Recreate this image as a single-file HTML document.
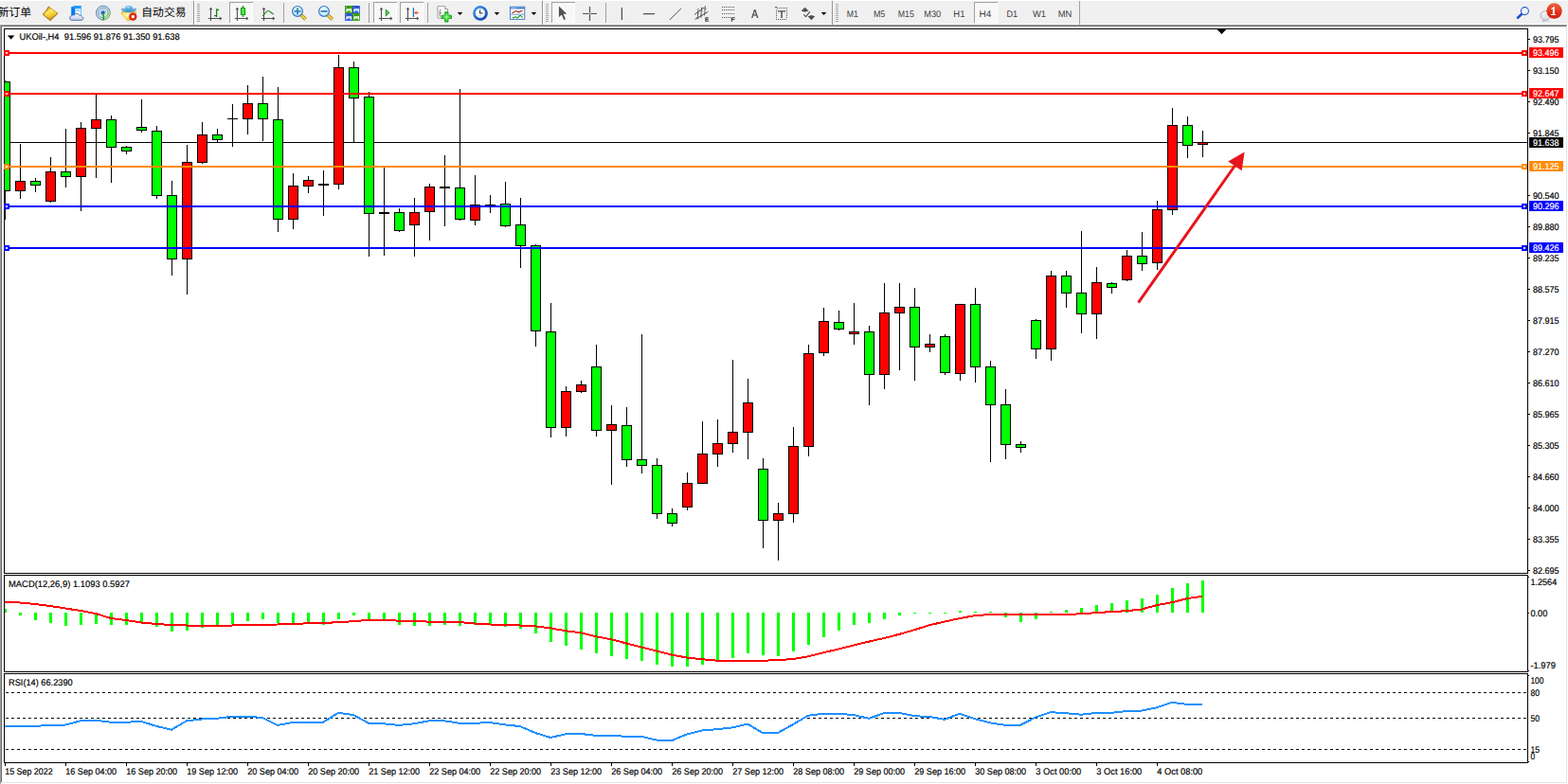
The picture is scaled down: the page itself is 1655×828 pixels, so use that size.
<!DOCTYPE html>
<html><head><meta charset="utf-8"><title>UKOil H4</title>
<style>
html,body{margin:0;padding:0;background:#fff;}
body{width:1655px;height:828px;overflow:hidden;position:relative;font-family:"Liberation Sans",sans-serif;}
svg{position:absolute;left:0;top:0;display:block}
text{font-family:"Liberation Sans",sans-serif;text-rendering:geometricPrecision;}
</style></head><body>
<svg width="1655" height="828" viewBox="0 0 1655 828">
<rect x="0" y="0" width="1655" height="828" fill="#fff"/>
<!-- window edges -->
<g shape-rendering="crispEdges">
<rect x="0" y="26" width="1" height="802" fill="#a0a0a0"/>
<rect x="1" y="27" width="1" height="800" fill="#696969"/>
<rect x="1653" y="27" width="1" height="800" fill="#e3e3e3"/>
<rect x="1" y="826" width="1653" height="1" fill="#e3e3e3"/>
</g>
<g shape-rendering="crispEdges">
<rect x="4" y="30" width="1609" height="1" fill="#000"/>
<rect x="4" y="605" width="1609" height="1" fill="#000"/>
<rect x="4" y="30" width="1" height="576" fill="#000"/>
<rect x="1612" y="30" width="1" height="576" fill="#000"/>
<rect x="4" y="607" width="1609" height="1" fill="#000"/>
<rect x="4" y="709" width="1609" height="1" fill="#000"/>
<rect x="4" y="607" width="1" height="103" fill="#000"/>
<rect x="1612" y="607" width="1" height="103" fill="#000"/>
<rect x="4" y="711" width="1609" height="1" fill="#000"/>
<rect x="4" y="805" width="1609" height="1" fill="#000"/>
<rect x="4" y="711" width="1" height="95" fill="#000"/>
<rect x="1612" y="711" width="1" height="95" fill="#000"/>
<rect x="5" y="150" width="1607" height="1" fill="#000"/>
<clipPath id="cm"><rect x="5" y="31" width="1607" height="574"/></clipPath><g clip-path="url(#cm)">
<rect x="5" y="85" width="1" height="147" fill="#000"/>
<rect x="0" y="86" width="11" height="116" fill="#000"/>
<rect x="1" y="87" width="9" height="114" fill="#00ff00"/>
<rect x="21" y="152" width="1" height="58" fill="#000"/>
<rect x="16" y="191" width="11" height="11" fill="#000"/>
<rect x="17" y="192" width="9" height="9" fill="#ff0000"/>
<rect x="37" y="188" width="1" height="15" fill="#000"/>
<rect x="32" y="191" width="11" height="5" fill="#000"/>
<rect x="33" y="192" width="9" height="3" fill="#00ff00"/>
<rect x="53" y="166" width="1" height="48" fill="#000"/>
<rect x="48" y="181" width="11" height="32" fill="#000"/>
<rect x="49" y="182" width="9" height="30" fill="#ff0000"/>
<rect x="69" y="136" width="1" height="62" fill="#000"/>
<rect x="64" y="181" width="11" height="6" fill="#000"/>
<rect x="65" y="182" width="9" height="4" fill="#00ff00"/>
<rect x="85" y="129" width="1" height="94" fill="#000"/>
<rect x="80" y="135" width="11" height="52" fill="#000"/>
<rect x="81" y="136" width="9" height="50" fill="#ff0000"/>
<rect x="101" y="99" width="1" height="89" fill="#000"/>
<rect x="96" y="126" width="11" height="10" fill="#000"/>
<rect x="97" y="127" width="9" height="8" fill="#ff0000"/>
<rect x="117" y="122" width="1" height="71" fill="#000"/>
<rect x="112" y="126" width="11" height="30" fill="#000"/>
<rect x="113" y="127" width="9" height="28" fill="#00ff00"/>
<rect x="133" y="154" width="1" height="9" fill="#000"/>
<rect x="128" y="155" width="11" height="5" fill="#000"/>
<rect x="129" y="156" width="9" height="3" fill="#00ff00"/>
<rect x="149" y="105" width="1" height="35" fill="#000"/>
<rect x="144" y="134" width="11" height="4" fill="#000"/>
<rect x="145" y="135" width="9" height="2" fill="#00ff00"/>
<rect x="165" y="133" width="1" height="77" fill="#000"/>
<rect x="160" y="138" width="11" height="69" fill="#000"/>
<rect x="161" y="139" width="9" height="67" fill="#00ff00"/>
<rect x="181" y="191" width="1" height="100" fill="#000"/>
<rect x="176" y="206" width="11" height="68" fill="#000"/>
<rect x="177" y="207" width="9" height="66" fill="#00ff00"/>
<rect x="197" y="153" width="1" height="158" fill="#000"/>
<rect x="192" y="171" width="11" height="103" fill="#000"/>
<rect x="193" y="172" width="9" height="101" fill="#ff0000"/>
<rect x="213" y="129" width="1" height="44" fill="#000"/>
<rect x="208" y="142" width="11" height="30" fill="#000"/>
<rect x="209" y="143" width="9" height="28" fill="#ff0000"/>
<rect x="229" y="136" width="1" height="14" fill="#000"/>
<rect x="224" y="142" width="11" height="6" fill="#000"/>
<rect x="225" y="143" width="9" height="4" fill="#00ff00"/>
<rect x="245" y="110" width="1" height="45" fill="#000"/>
<rect x="240" y="125" width="11" height="1" fill="#000"/>
<rect x="261" y="90" width="1" height="52" fill="#000"/>
<rect x="256" y="109" width="11" height="17" fill="#000"/>
<rect x="257" y="110" width="9" height="15" fill="#ff0000"/>
<rect x="277" y="81" width="1" height="68" fill="#000"/>
<rect x="272" y="109" width="11" height="17" fill="#000"/>
<rect x="273" y="110" width="9" height="15" fill="#00ff00"/>
<rect x="293" y="92" width="1" height="153" fill="#000"/>
<rect x="288" y="126" width="11" height="106" fill="#000"/>
<rect x="289" y="127" width="9" height="104" fill="#00ff00"/>
<rect x="309" y="183" width="1" height="59" fill="#000"/>
<rect x="304" y="196" width="11" height="36" fill="#000"/>
<rect x="305" y="197" width="9" height="34" fill="#ff0000"/>
<rect x="325" y="186" width="1" height="18" fill="#000"/>
<rect x="320" y="190" width="11" height="7" fill="#000"/>
<rect x="321" y="191" width="9" height="5" fill="#ff0000"/>
<rect x="341" y="180" width="1" height="48" fill="#000"/>
<rect x="336" y="194" width="11" height="2" fill="#000"/>
<rect x="357" y="58" width="1" height="142" fill="#000"/>
<rect x="352" y="71" width="11" height="124" fill="#000"/>
<rect x="353" y="72" width="9" height="122" fill="#ff0000"/>
<rect x="373" y="65" width="1" height="85" fill="#000"/>
<rect x="368" y="71" width="11" height="33" fill="#000"/>
<rect x="369" y="72" width="9" height="31" fill="#00ff00"/>
<rect x="389" y="97" width="1" height="174" fill="#000"/>
<rect x="384" y="102" width="11" height="124" fill="#000"/>
<rect x="385" y="103" width="9" height="122" fill="#00ff00"/>
<rect x="405" y="176" width="1" height="94" fill="#000"/>
<rect x="400" y="224" width="11" height="2" fill="#000"/>
<rect x="421" y="220" width="1" height="25" fill="#000"/>
<rect x="416" y="224" width="11" height="20" fill="#000"/>
<rect x="417" y="225" width="9" height="18" fill="#00ff00"/>
<rect x="437" y="209" width="1" height="62" fill="#000"/>
<rect x="432" y="224" width="11" height="14" fill="#000"/>
<rect x="433" y="225" width="9" height="12" fill="#ff0000"/>
<rect x="453" y="194" width="1" height="60" fill="#000"/>
<rect x="448" y="197" width="11" height="27" fill="#000"/>
<rect x="449" y="198" width="9" height="25" fill="#ff0000"/>
<rect x="469" y="164" width="1" height="75" fill="#000"/>
<rect x="464" y="197" width="11" height="2" fill="#000"/>
<rect x="485" y="94" width="1" height="139" fill="#000"/>
<rect x="480" y="198" width="11" height="34" fill="#000"/>
<rect x="481" y="199" width="9" height="32" fill="#00ff00"/>
<rect x="501" y="185" width="1" height="53" fill="#000"/>
<rect x="496" y="216" width="11" height="17" fill="#000"/>
<rect x="497" y="217" width="9" height="15" fill="#ff0000"/>
<rect x="517" y="206" width="1" height="19" fill="#000"/>
<rect x="512" y="216" width="11" height="1" fill="#000"/>
<rect x="533" y="192" width="1" height="48" fill="#000"/>
<rect x="528" y="215" width="11" height="24" fill="#000"/>
<rect x="529" y="216" width="9" height="22" fill="#00ff00"/>
<rect x="549" y="209" width="1" height="74" fill="#000"/>
<rect x="544" y="237" width="11" height="23" fill="#000"/>
<rect x="545" y="238" width="9" height="21" fill="#00ff00"/>
<rect x="565" y="258" width="1" height="108" fill="#000"/>
<rect x="560" y="259" width="11" height="91" fill="#000"/>
<rect x="561" y="260" width="9" height="89" fill="#00ff00"/>
<rect x="581" y="320" width="1" height="142" fill="#000"/>
<rect x="576" y="350" width="11" height="102" fill="#000"/>
<rect x="577" y="351" width="9" height="100" fill="#00ff00"/>
<rect x="597" y="408" width="1" height="53" fill="#000"/>
<rect x="592" y="413" width="11" height="39" fill="#000"/>
<rect x="593" y="414" width="9" height="37" fill="#ff0000"/>
<rect x="613" y="402" width="1" height="13" fill="#000"/>
<rect x="608" y="406" width="11" height="8" fill="#000"/>
<rect x="609" y="407" width="9" height="6" fill="#ff0000"/>
<rect x="629" y="364" width="1" height="97" fill="#000"/>
<rect x="624" y="387" width="11" height="68" fill="#000"/>
<rect x="625" y="388" width="9" height="66" fill="#00ff00"/>
<rect x="645" y="428" width="1" height="84" fill="#000"/>
<rect x="640" y="448" width="11" height="7" fill="#000"/>
<rect x="641" y="449" width="9" height="5" fill="#ff0000"/>
<rect x="661" y="430" width="1" height="63" fill="#000"/>
<rect x="656" y="449" width="11" height="37" fill="#000"/>
<rect x="657" y="450" width="9" height="35" fill="#00ff00"/>
<rect x="677" y="353" width="1" height="147" fill="#000"/>
<rect x="672" y="485" width="11" height="7" fill="#000"/>
<rect x="673" y="486" width="9" height="5" fill="#00ff00"/>
<rect x="693" y="484" width="1" height="64" fill="#000"/>
<rect x="688" y="491" width="11" height="52" fill="#000"/>
<rect x="689" y="492" width="9" height="50" fill="#00ff00"/>
<rect x="709" y="537" width="1" height="19" fill="#000"/>
<rect x="704" y="542" width="11" height="11" fill="#000"/>
<rect x="705" y="543" width="9" height="9" fill="#00ff00"/>
<rect x="725" y="499" width="1" height="40" fill="#000"/>
<rect x="720" y="510" width="11" height="26" fill="#000"/>
<rect x="721" y="511" width="9" height="24" fill="#ff0000"/>
<rect x="741" y="445" width="1" height="65" fill="#000"/>
<rect x="736" y="479" width="11" height="32" fill="#000"/>
<rect x="737" y="480" width="9" height="30" fill="#ff0000"/>
<rect x="757" y="443" width="1" height="50" fill="#000"/>
<rect x="752" y="468" width="11" height="12" fill="#000"/>
<rect x="753" y="469" width="9" height="10" fill="#ff0000"/>
<rect x="773" y="380" width="1" height="98" fill="#000"/>
<rect x="768" y="456" width="11" height="13" fill="#000"/>
<rect x="769" y="457" width="9" height="11" fill="#ff0000"/>
<rect x="789" y="400" width="1" height="85" fill="#000"/>
<rect x="784" y="425" width="11" height="32" fill="#000"/>
<rect x="785" y="426" width="9" height="30" fill="#ff0000"/>
<rect x="805" y="484" width="1" height="95" fill="#000"/>
<rect x="800" y="495" width="11" height="55" fill="#000"/>
<rect x="801" y="496" width="9" height="53" fill="#00ff00"/>
<rect x="821" y="531" width="1" height="61" fill="#000"/>
<rect x="816" y="542" width="11" height="8" fill="#000"/>
<rect x="817" y="543" width="9" height="6" fill="#ff0000"/>
<rect x="837" y="451" width="1" height="101" fill="#000"/>
<rect x="832" y="471" width="11" height="72" fill="#000"/>
<rect x="833" y="472" width="9" height="70" fill="#ff0000"/>
<rect x="853" y="364" width="1" height="118" fill="#000"/>
<rect x="848" y="373" width="11" height="99" fill="#000"/>
<rect x="849" y="374" width="9" height="97" fill="#ff0000"/>
<rect x="869" y="325" width="1" height="51" fill="#000"/>
<rect x="864" y="339" width="11" height="34" fill="#000"/>
<rect x="865" y="340" width="9" height="32" fill="#ff0000"/>
<rect x="885" y="328" width="1" height="21" fill="#000"/>
<rect x="880" y="340" width="11" height="8" fill="#000"/>
<rect x="881" y="341" width="9" height="6" fill="#00ff00"/>
<rect x="901" y="320" width="1" height="44" fill="#000"/>
<rect x="896" y="350" width="11" height="3" fill="#000"/>
<rect x="897" y="351" width="9" height="1" fill="#ff0000"/>
<rect x="917" y="344" width="1" height="84" fill="#000"/>
<rect x="912" y="350" width="11" height="46" fill="#000"/>
<rect x="913" y="351" width="9" height="44" fill="#00ff00"/>
<rect x="933" y="299" width="1" height="112" fill="#000"/>
<rect x="928" y="330" width="11" height="66" fill="#000"/>
<rect x="929" y="331" width="9" height="64" fill="#ff0000"/>
<rect x="949" y="299" width="1" height="92" fill="#000"/>
<rect x="944" y="324" width="11" height="7" fill="#000"/>
<rect x="945" y="325" width="9" height="5" fill="#ff0000"/>
<rect x="965" y="304" width="1" height="98" fill="#000"/>
<rect x="960" y="324" width="11" height="43" fill="#000"/>
<rect x="961" y="325" width="9" height="41" fill="#00ff00"/>
<rect x="981" y="353" width="1" height="19" fill="#000"/>
<rect x="976" y="363" width="11" height="4" fill="#000"/>
<rect x="977" y="364" width="9" height="2" fill="#ff0000"/>
<rect x="997" y="353" width="1" height="43" fill="#000"/>
<rect x="992" y="355" width="11" height="39" fill="#000"/>
<rect x="993" y="356" width="9" height="37" fill="#00ff00"/>
<rect x="1013" y="321" width="1" height="81" fill="#000"/>
<rect x="1008" y="321" width="11" height="74" fill="#000"/>
<rect x="1009" y="322" width="9" height="72" fill="#ff0000"/>
<rect x="1029" y="304" width="1" height="100" fill="#000"/>
<rect x="1024" y="321" width="11" height="67" fill="#000"/>
<rect x="1025" y="322" width="9" height="65" fill="#00ff00"/>
<rect x="1045" y="381" width="1" height="107" fill="#000"/>
<rect x="1040" y="387" width="11" height="41" fill="#000"/>
<rect x="1041" y="388" width="9" height="39" fill="#00ff00"/>
<rect x="1061" y="411" width="1" height="74" fill="#000"/>
<rect x="1056" y="427" width="11" height="43" fill="#000"/>
<rect x="1057" y="428" width="9" height="41" fill="#00ff00"/>
<rect x="1077" y="466" width="1" height="12" fill="#000"/>
<rect x="1072" y="469" width="11" height="4" fill="#000"/>
<rect x="1073" y="470" width="9" height="2" fill="#00ff00"/>
<rect x="1093" y="337" width="1" height="42" fill="#000"/>
<rect x="1088" y="338" width="11" height="31" fill="#000"/>
<rect x="1089" y="339" width="9" height="29" fill="#00ff00"/>
<rect x="1109" y="286" width="1" height="95" fill="#000"/>
<rect x="1104" y="291" width="11" height="78" fill="#000"/>
<rect x="1105" y="292" width="9" height="76" fill="#ff0000"/>
<rect x="1125" y="286" width="1" height="39" fill="#000"/>
<rect x="1120" y="291" width="11" height="19" fill="#000"/>
<rect x="1121" y="292" width="9" height="17" fill="#00ff00"/>
<rect x="1141" y="244" width="1" height="108" fill="#000"/>
<rect x="1136" y="309" width="11" height="23" fill="#000"/>
<rect x="1137" y="310" width="9" height="21" fill="#00ff00"/>
<rect x="1157" y="282" width="1" height="76" fill="#000"/>
<rect x="1152" y="298" width="11" height="34" fill="#000"/>
<rect x="1153" y="299" width="9" height="32" fill="#ff0000"/>
<rect x="1173" y="298" width="1" height="12" fill="#000"/>
<rect x="1168" y="299" width="11" height="5" fill="#000"/>
<rect x="1169" y="300" width="9" height="3" fill="#00ff00"/>
<rect x="1189" y="264" width="1" height="33" fill="#000"/>
<rect x="1184" y="270" width="11" height="26" fill="#000"/>
<rect x="1185" y="271" width="9" height="24" fill="#ff0000"/>
<rect x="1205" y="245" width="1" height="41" fill="#000"/>
<rect x="1200" y="270" width="11" height="9" fill="#000"/>
<rect x="1201" y="271" width="9" height="7" fill="#00ff00"/>
<rect x="1221" y="212" width="1" height="73" fill="#000"/>
<rect x="1216" y="221" width="11" height="57" fill="#000"/>
<rect x="1217" y="222" width="9" height="55" fill="#ff0000"/>
<rect x="1237" y="114" width="1" height="113" fill="#000"/>
<rect x="1232" y="132" width="11" height="90" fill="#000"/>
<rect x="1233" y="133" width="9" height="88" fill="#ff0000"/>
<rect x="1253" y="123" width="1" height="44" fill="#000"/>
<rect x="1248" y="132" width="11" height="22" fill="#000"/>
<rect x="1249" y="133" width="9" height="20" fill="#00ff00"/>
<rect x="1269" y="138" width="1" height="28" fill="#000"/>
<rect x="1264" y="150" width="11" height="3" fill="#000"/>
<rect x="1265" y="151" width="9" height="1" fill="#ff0000"/>
</g>
<rect x="5" y="55" width="1607" height="2" fill="#ff0000"/>
<rect x="4" y="53" width="6" height="6" fill="#ff0000"/>
<rect x="6" y="55" width="2" height="2" fill="#fff"/>
<rect x="1606" y="53" width="6" height="6" fill="#ff0000"/>
<rect x="1608" y="55" width="2" height="2" fill="#fff"/>
<rect x="5" y="98" width="1607" height="2" fill="#ff0000"/>
<rect x="4" y="96" width="6" height="6" fill="#ff0000"/>
<rect x="6" y="98" width="2" height="2" fill="#fff"/>
<rect x="1606" y="96" width="6" height="6" fill="#ff0000"/>
<rect x="1608" y="98" width="2" height="2" fill="#fff"/>
<rect x="5" y="175" width="1607" height="2" fill="#ff8c00"/>
<rect x="4" y="173" width="6" height="6" fill="#ff8c00"/>
<rect x="6" y="175" width="2" height="2" fill="#fff"/>
<rect x="1606" y="173" width="6" height="6" fill="#ff8c00"/>
<rect x="1608" y="175" width="2" height="2" fill="#fff"/>
<rect x="5" y="217" width="1607" height="2" fill="#0000ff"/>
<rect x="4" y="215" width="6" height="6" fill="#0000ff"/>
<rect x="6" y="217" width="2" height="2" fill="#fff"/>
<rect x="1606" y="215" width="6" height="6" fill="#0000ff"/>
<rect x="1608" y="217" width="2" height="2" fill="#fff"/>
<rect x="5" y="261" width="1607" height="2" fill="#0000ff"/>
<rect x="4" y="259" width="6" height="6" fill="#0000ff"/>
<rect x="6" y="261" width="2" height="2" fill="#fff"/>
<rect x="1606" y="259" width="6" height="6" fill="#0000ff"/>
<rect x="1608" y="261" width="2" height="2" fill="#fff"/>
<rect x="1613" y="41" width="2" height="1" fill="#000"/>
<rect x="1613" y="74" width="2" height="1" fill="#000"/>
<rect x="1613" y="107" width="2" height="1" fill="#000"/>
<rect x="1613" y="140" width="2" height="1" fill="#000"/>
<rect x="1613" y="206" width="2" height="1" fill="#000"/>
<rect x="1613" y="239" width="2" height="1" fill="#000"/>
<rect x="1613" y="272" width="2" height="1" fill="#000"/>
<rect x="1613" y="305" width="2" height="1" fill="#000"/>
<rect x="1613" y="338" width="2" height="1" fill="#000"/>
<rect x="1613" y="371" width="2" height="1" fill="#000"/>
<rect x="1613" y="404" width="2" height="1" fill="#000"/>
<rect x="1613" y="437" width="2" height="1" fill="#000"/>
<rect x="1613" y="470" width="2" height="1" fill="#000"/>
<rect x="1613" y="503" width="2" height="1" fill="#000"/>
<rect x="1613" y="536" width="2" height="1" fill="#000"/>
<rect x="1613" y="569" width="2" height="1" fill="#000"/>
<rect x="1613" y="602" width="2" height="1" fill="#000"/>
<rect x="1614" y="50" width="36" height="11" fill="#ff0000"/>
<rect x="1614" y="93" width="36" height="11" fill="#ff0000"/>
<rect x="1614" y="170" width="36" height="11" fill="#ff8c00"/>
<rect x="1614" y="212" width="36" height="11" fill="#0000ff"/>
<rect x="1614" y="256" width="36" height="11" fill="#0000ff"/>
<rect x="1614" y="145" width="36" height="11" fill="#000"/>
<rect x="1613" y="647" width="1" height="1" fill="#000"/>
<rect x="1613" y="609" width="1" height="1" fill="#000"/>
<rect x="1613" y="708" width="1" height="1" fill="#000"/>
<rect x="1613" y="713" width="1" height="1" fill="#000"/>
<rect x="1613" y="804" width="1" height="1" fill="#000"/>
<rect x="5" y="643" width="2" height="4" fill="#00ff00"/>
<rect x="20" y="647" width="3" height="3" fill="#00ff00"/>
<rect x="36" y="647" width="3" height="8" fill="#00ff00"/>
<rect x="52" y="647" width="3" height="11" fill="#00ff00"/>
<rect x="68" y="647" width="3" height="14" fill="#00ff00"/>
<rect x="84" y="647" width="3" height="13" fill="#00ff00"/>
<rect x="100" y="647" width="3" height="12" fill="#00ff00"/>
<rect x="116" y="647" width="3" height="13" fill="#00ff00"/>
<rect x="132" y="647" width="3" height="13" fill="#00ff00"/>
<rect x="148" y="647" width="3" height="11" fill="#00ff00"/>
<rect x="164" y="647" width="3" height="15" fill="#00ff00"/>
<rect x="180" y="647" width="3" height="20" fill="#00ff00"/>
<rect x="196" y="647" width="3" height="19" fill="#00ff00"/>
<rect x="212" y="647" width="3" height="16" fill="#00ff00"/>
<rect x="228" y="647" width="3" height="14" fill="#00ff00"/>
<rect x="244" y="647" width="3" height="12" fill="#00ff00"/>
<rect x="260" y="647" width="3" height="9" fill="#00ff00"/>
<rect x="276" y="647" width="3" height="7" fill="#00ff00"/>
<rect x="292" y="647" width="3" height="11" fill="#00ff00"/>
<rect x="308" y="647" width="3" height="12" fill="#00ff00"/>
<rect x="324" y="647" width="3" height="11" fill="#00ff00"/>
<rect x="340" y="647" width="3" height="13" fill="#00ff00"/>
<rect x="356" y="647" width="3" height="7" fill="#00ff00"/>
<rect x="372" y="647" width="3" height="3" fill="#00ff00"/>
<rect x="388" y="647" width="3" height="7" fill="#00ff00"/>
<rect x="404" y="647" width="3" height="9" fill="#00ff00"/>
<rect x="420" y="647" width="3" height="13" fill="#00ff00"/>
<rect x="436" y="647" width="3" height="14" fill="#00ff00"/>
<rect x="452" y="647" width="3" height="14" fill="#00ff00"/>
<rect x="468" y="647" width="3" height="13" fill="#00ff00"/>
<rect x="484" y="647" width="3" height="14" fill="#00ff00"/>
<rect x="500" y="647" width="3" height="13" fill="#00ff00"/>
<rect x="516" y="647" width="3" height="13" fill="#00ff00"/>
<rect x="532" y="647" width="3" height="15" fill="#00ff00"/>
<rect x="548" y="647" width="3" height="17" fill="#00ff00"/>
<rect x="564" y="647" width="3" height="22" fill="#00ff00"/>
<rect x="580" y="647" width="3" height="31" fill="#00ff00"/>
<rect x="596" y="647" width="3" height="35" fill="#00ff00"/>
<rect x="612" y="647" width="3" height="39" fill="#00ff00"/>
<rect x="628" y="647" width="3" height="43" fill="#00ff00"/>
<rect x="644" y="647" width="3" height="46" fill="#00ff00"/>
<rect x="660" y="647" width="3" height="49" fill="#00ff00"/>
<rect x="676" y="647" width="3" height="51" fill="#00ff00"/>
<rect x="692" y="647" width="3" height="55" fill="#00ff00"/>
<rect x="708" y="647" width="3" height="57" fill="#00ff00"/>
<rect x="724" y="647" width="3" height="57" fill="#00ff00"/>
<rect x="740" y="647" width="3" height="55" fill="#00ff00"/>
<rect x="756" y="647" width="3" height="50" fill="#00ff00"/>
<rect x="772" y="647" width="3" height="48" fill="#00ff00"/>
<rect x="788" y="647" width="3" height="43" fill="#00ff00"/>
<rect x="804" y="647" width="3" height="45" fill="#00ff00"/>
<rect x="820" y="647" width="3" height="46" fill="#00ff00"/>
<rect x="836" y="647" width="3" height="41" fill="#00ff00"/>
<rect x="852" y="647" width="3" height="34" fill="#00ff00"/>
<rect x="868" y="647" width="3" height="26" fill="#00ff00"/>
<rect x="884" y="647" width="3" height="19" fill="#00ff00"/>
<rect x="900" y="647" width="3" height="13" fill="#00ff00"/>
<rect x="916" y="647" width="3" height="11" fill="#00ff00"/>
<rect x="932" y="647" width="3" height="7" fill="#00ff00"/>
<rect x="948" y="647" width="3" height="3" fill="#00ff00"/>
<rect x="964" y="647" width="3" height="1" fill="#00ff00"/>
<rect x="980" y="647" width="3" height="1" fill="#00ff00"/>
<rect x="996" y="647" width="3" height="1" fill="#00ff00"/>
<rect x="1012" y="645" width="3" height="2" fill="#00ff00"/>
<rect x="1028" y="646" width="3" height="1" fill="#00ff00"/>
<rect x="1044" y="646" width="3" height="1" fill="#00ff00"/>
<rect x="1060" y="647" width="3" height="5" fill="#00ff00"/>
<rect x="1076" y="647" width="3" height="10" fill="#00ff00"/>
<rect x="1092" y="647" width="3" height="7" fill="#00ff00"/>
<rect x="1108" y="646" width="3" height="1" fill="#00ff00"/>
<rect x="1124" y="644" width="3" height="3" fill="#00ff00"/>
<rect x="1140" y="642" width="3" height="5" fill="#00ff00"/>
<rect x="1156" y="639" width="3" height="8" fill="#00ff00"/>
<rect x="1172" y="637" width="3" height="10" fill="#00ff00"/>
<rect x="1188" y="634" width="3" height="13" fill="#00ff00"/>
<rect x="1204" y="632" width="3" height="15" fill="#00ff00"/>
<rect x="1220" y="628" width="3" height="19" fill="#00ff00"/>
<rect x="1236" y="621" width="3" height="26" fill="#00ff00"/>
<rect x="1252" y="616" width="3" height="31" fill="#00ff00"/>
<rect x="1268" y="613" width="3" height="34" fill="#00ff00"/>
<line x1="6" x2="1612" y1="731.5" y2="731.5" stroke="#000" stroke-width="1" stroke-dasharray="3,3"/>
<line x1="6" x2="1612" y1="758.5" y2="758.5" stroke="#000" stroke-width="1" stroke-dasharray="3,3"/>
<line x1="6" x2="1612" y1="791.5" y2="791.5" stroke="#000" stroke-width="1" stroke-dasharray="3,3"/>
<rect x="5" y="806" width="1" height="3" fill="#000"/>
<rect x="69" y="806" width="1" height="3" fill="#000"/>
<rect x="133" y="806" width="1" height="3" fill="#000"/>
<rect x="197" y="806" width="1" height="3" fill="#000"/>
<rect x="261" y="806" width="1" height="3" fill="#000"/>
<rect x="325" y="806" width="1" height="3" fill="#000"/>
<rect x="389" y="806" width="1" height="3" fill="#000"/>
<rect x="453" y="806" width="1" height="3" fill="#000"/>
<rect x="517" y="806" width="1" height="3" fill="#000"/>
<rect x="581" y="806" width="1" height="3" fill="#000"/>
<rect x="645" y="806" width="1" height="3" fill="#000"/>
<rect x="709" y="806" width="1" height="3" fill="#000"/>
<rect x="773" y="806" width="1" height="3" fill="#000"/>
<rect x="837" y="806" width="1" height="3" fill="#000"/>
<rect x="901" y="806" width="1" height="3" fill="#000"/>
<rect x="965" y="806" width="1" height="3" fill="#000"/>
<rect x="1029" y="806" width="1" height="3" fill="#000"/>
<rect x="1093" y="806" width="1" height="3" fill="#000"/>
<rect x="1157" y="806" width="1" height="3" fill="#000"/>
<rect x="1221" y="806" width="1" height="3" fill="#000"/>
</g>
<polyline points="5,636 21,636.5 37,638 53,640 69,642.5 85,645 101,648 117,653 133,655 149,657.5 165,659 181,660 197,660.5 213,660.5 229,660.5 245,660.5 261,660 277,659.7 293,659.5 309,659 325,658.3 341,657.8 357,657.3 373,656.1 389,654.9 405,655.1 421,655.6 437,656.1 453,656.6 469,656.6 485,657 501,658.5 517,659.5 533,659.7 549,660.5 565,661.4 581,663.4 597,666.3 613,668.2 629,672.3 645,675.2 661,679.4 677,683.5 693,687.5 709,691.6 725,694.5 741,696.2 757,697.7 773,697.7 789,697.7 805,697.7 821,697.2 837,696 853,693.3 869,689.2 885,685.6 901,681.5 917,677.6 933,674 949,669.9 965,665.3 981,660.2 997,656.6 1013,653 1029,650.2 1045,649 1061,649 1077,649 1093,649 1109,649 1125,649 1141,648.3 1157,647.1 1173,646.1 1189,645.2 1205,643.5 1221,639.1 1237,636.2 1253,632.1 1269,629.7" fill="none" stroke="#ff0000" stroke-width="2" stroke-linejoin="round" shape-rendering="crispEdges"/>
<polyline points="5,766.9 21,766.9 37,766.9 53,765.9 69,765.6 85,761.3 101,760.8 117,762.8 133,762.8 149,761.8 165,766.9 181,770.7 197,761.3 213,759.5 229,758.8 245,756.7 261,756.7 277,758 293,765.9 309,763 325,762.8 341,762.8 357,752.9 373,755 389,763.8 405,764.3 421,765.9 437,764.3 453,761.3 469,761.3 485,763.8 501,763.8 517,763 533,765.4 549,767.1 565,774 581,779 597,775.3 613,775 629,776.8 645,776.8 661,777.8 677,777.8 693,781.6 709,782.1 725,775.5 741,771.5 757,770.2 773,768.4 789,764.6 805,774 821,774 837,765.1 853,755.7 869,753.7 885,753.9 901,755 917,758.8 933,753.2 949,752.9 965,756.2 981,757 997,759.8 1013,753.7 1029,759.3 1045,763.3 1061,765.9 1077,765.9 1093,757.5 1109,752.2 1125,753.2 1141,754.7 1157,752.9 1173,752.9 1189,751 1205,750.5 1221,747.3 1237,741.9 1253,743.9 1269,743.9" fill="none" stroke="#1e90ff" stroke-width="2" stroke-linejoin="round" shape-rendering="crispEdges"/>
<line x1="1201.5" y1="319.6" x2="1303.4" y2="175" stroke="#e8141e" stroke-width="3.0"/>
<polygon points="1313.6,160.6 1296.2,170.5 1310.7,180.2" fill="#e8141e"/>
<g shape-rendering="crispEdges"><rect x="1285" y="31" width="9" height="1" fill="#000"/><rect x="1286" y="32" width="7" height="1" fill="#000"/><rect x="1287" y="33" width="5" height="1" fill="#000"/><rect x="1288" y="34" width="3" height="1" fill="#000"/><rect x="1289" y="35" width="1" height="1" fill="#000"/></g>
<g font-family="Liberation Sans, sans-serif" stroke="#000" stroke-width="0.18">
<polygon points="8,37.5 15.2,37.5 11.6,41.6" fill="#000"/>
<text x="20.5" y="42" font-size="9.6" fill="#000" text-anchor="start" textLength="169.2" lengthAdjust="spacingAndGlyphs">UKOil-,H4&#160;&#160;91.596 91.876 91.350 91.638</text>
<text x="9" y="620" font-size="9.6" fill="#000" text-anchor="start" textLength="128" lengthAdjust="spacingAndGlyphs">MACD(12,26,9) 1.1093 0.5927</text>
<text x="9" y="723.7" font-size="9.6" fill="#000" text-anchor="start" textLength="67.7" lengthAdjust="spacingAndGlyphs">RSI(14) 66.2390</text>
<text x="1618" y="45" font-size="9.6" fill="#000" text-anchor="start" textLength="27.6" lengthAdjust="spacingAndGlyphs">93.795</text>
<text x="1618" y="78" font-size="9.6" fill="#000" text-anchor="start" textLength="27.6" lengthAdjust="spacingAndGlyphs">93.150</text>
<text x="1618" y="111" font-size="9.6" fill="#000" text-anchor="start" textLength="27.6" lengthAdjust="spacingAndGlyphs">92.490</text>
<text x="1618" y="144" font-size="9.6" fill="#000" text-anchor="start" textLength="27.6" lengthAdjust="spacingAndGlyphs">91.845</text>
<text x="1618" y="210" font-size="9.6" fill="#000" text-anchor="start" textLength="27.6" lengthAdjust="spacingAndGlyphs">90.540</text>
<text x="1618" y="243" font-size="9.6" fill="#000" text-anchor="start" textLength="27.6" lengthAdjust="spacingAndGlyphs">89.880</text>
<text x="1618" y="276" font-size="9.6" fill="#000" text-anchor="start" textLength="27.6" lengthAdjust="spacingAndGlyphs">89.235</text>
<text x="1618" y="309" font-size="9.6" fill="#000" text-anchor="start" textLength="27.6" lengthAdjust="spacingAndGlyphs">88.575</text>
<text x="1618" y="342" font-size="9.6" fill="#000" text-anchor="start" textLength="27.6" lengthAdjust="spacingAndGlyphs">87.915</text>
<text x="1618" y="375" font-size="9.6" fill="#000" text-anchor="start" textLength="27.6" lengthAdjust="spacingAndGlyphs">87.270</text>
<text x="1618" y="408" font-size="9.6" fill="#000" text-anchor="start" textLength="27.6" lengthAdjust="spacingAndGlyphs">86.610</text>
<text x="1618" y="441" font-size="9.6" fill="#000" text-anchor="start" textLength="27.6" lengthAdjust="spacingAndGlyphs">85.965</text>
<text x="1618" y="474" font-size="9.6" fill="#000" text-anchor="start" textLength="27.6" lengthAdjust="spacingAndGlyphs">85.305</text>
<text x="1618" y="507" font-size="9.6" fill="#000" text-anchor="start" textLength="27.6" lengthAdjust="spacingAndGlyphs">84.660</text>
<text x="1618" y="540" font-size="9.6" fill="#000" text-anchor="start" textLength="27.6" lengthAdjust="spacingAndGlyphs">84.000</text>
<text x="1618" y="573" font-size="9.6" fill="#000" text-anchor="start" textLength="27.6" lengthAdjust="spacingAndGlyphs">83.355</text>
<text x="1618" y="606" font-size="9.6" fill="#000" text-anchor="start" textLength="27.6" lengthAdjust="spacingAndGlyphs">82.695</text>
<text x="1618" y="59" font-size="9.6" fill="#fff" stroke="#fff" text-anchor="start" textLength="27.6" lengthAdjust="spacingAndGlyphs">93.496</text>
<text x="1618" y="102" font-size="9.6" fill="#fff" stroke="#fff" text-anchor="start" textLength="27.6" lengthAdjust="spacingAndGlyphs">92.647</text>
<text x="1618" y="179" font-size="9.6" fill="#fff" stroke="#fff" text-anchor="start" textLength="27.6" lengthAdjust="spacingAndGlyphs">91.125</text>
<text x="1618" y="221" font-size="9.6" fill="#fff" stroke="#fff" text-anchor="start" textLength="27.6" lengthAdjust="spacingAndGlyphs">90.296</text>
<text x="1618" y="265" font-size="9.6" fill="#fff" stroke="#fff" text-anchor="start" textLength="27.6" lengthAdjust="spacingAndGlyphs">89.426</text>
<text x="1618" y="154" font-size="9.6" fill="#fff" stroke="#fff" text-anchor="start" textLength="27.6" lengthAdjust="spacingAndGlyphs">91.638</text>
<text x="1615.4" y="618" font-size="9.6" fill="#000" text-anchor="start" textLength="27.8" lengthAdjust="spacingAndGlyphs">1.2564</text>
<text x="1615.4" y="651" font-size="9.6" fill="#000" text-anchor="start" textLength="18" lengthAdjust="spacingAndGlyphs">0.00</text>
<text x="1615.4" y="706" font-size="9.6" fill="#000" text-anchor="start" textLength="26.5" lengthAdjust="spacingAndGlyphs">-1.979</text>
<text x="1615.4" y="722" font-size="9.6" fill="#000" text-anchor="start" textLength="14" lengthAdjust="spacingAndGlyphs">100</text>
<text x="1615.4" y="735" font-size="9.6" fill="#000" text-anchor="start" textLength="9.5" lengthAdjust="spacingAndGlyphs">80</text>
<text x="1615.4" y="762" font-size="9.6" fill="#000" text-anchor="start" textLength="9.5" lengthAdjust="spacingAndGlyphs">50</text>
<text x="1615.4" y="795" font-size="9.6" fill="#000" text-anchor="start" textLength="9.5" lengthAdjust="spacingAndGlyphs">15</text>
<text x="1615.4" y="802" font-size="9.6" fill="#000" text-anchor="start" textLength="4.7" lengthAdjust="spacingAndGlyphs">0</text>
<text x="5.3" y="817.6" font-size="9.6" fill="#000" text-anchor="start" textLength="50.3" lengthAdjust="spacingAndGlyphs">15 Sep 2022</text>
<text x="69.3" y="817.6" font-size="9.6" fill="#000" text-anchor="start" textLength="53.8" lengthAdjust="spacingAndGlyphs">16 Sep 04:00</text>
<text x="133.3" y="817.6" font-size="9.6" fill="#000" text-anchor="start" textLength="53.8" lengthAdjust="spacingAndGlyphs">16 Sep 20:00</text>
<text x="197.3" y="817.6" font-size="9.6" fill="#000" text-anchor="start" textLength="53.8" lengthAdjust="spacingAndGlyphs">19 Sep 12:00</text>
<text x="261.3" y="817.6" font-size="9.6" fill="#000" text-anchor="start" textLength="53.8" lengthAdjust="spacingAndGlyphs">20 Sep 04:00</text>
<text x="325.3" y="817.6" font-size="9.6" fill="#000" text-anchor="start" textLength="53.8" lengthAdjust="spacingAndGlyphs">20 Sep 20:00</text>
<text x="389.3" y="817.6" font-size="9.6" fill="#000" text-anchor="start" textLength="53.8" lengthAdjust="spacingAndGlyphs">21 Sep 12:00</text>
<text x="453.3" y="817.6" font-size="9.6" fill="#000" text-anchor="start" textLength="53.8" lengthAdjust="spacingAndGlyphs">22 Sep 04:00</text>
<text x="517.3" y="817.6" font-size="9.6" fill="#000" text-anchor="start" textLength="53.8" lengthAdjust="spacingAndGlyphs">22 Sep 20:00</text>
<text x="581.3" y="817.6" font-size="9.6" fill="#000" text-anchor="start" textLength="53.8" lengthAdjust="spacingAndGlyphs">23 Sep 12:00</text>
<text x="645.3" y="817.6" font-size="9.6" fill="#000" text-anchor="start" textLength="53.8" lengthAdjust="spacingAndGlyphs">26 Sep 04:00</text>
<text x="709.3" y="817.6" font-size="9.6" fill="#000" text-anchor="start" textLength="53.8" lengthAdjust="spacingAndGlyphs">26 Sep 20:00</text>
<text x="773.3" y="817.6" font-size="9.6" fill="#000" text-anchor="start" textLength="53.8" lengthAdjust="spacingAndGlyphs">27 Sep 12:00</text>
<text x="837.3" y="817.6" font-size="9.6" fill="#000" text-anchor="start" textLength="53.8" lengthAdjust="spacingAndGlyphs">28 Sep 08:00</text>
<text x="901.3" y="817.6" font-size="9.6" fill="#000" text-anchor="start" textLength="53.8" lengthAdjust="spacingAndGlyphs">29 Sep 00:00</text>
<text x="965.3" y="817.6" font-size="9.6" fill="#000" text-anchor="start" textLength="53.8" lengthAdjust="spacingAndGlyphs">29 Sep 16:00</text>
<text x="1029.3" y="817.6" font-size="9.6" fill="#000" text-anchor="start" textLength="53.8" lengthAdjust="spacingAndGlyphs">30 Sep 08:00</text>
<text x="1093.3" y="817.6" font-size="9.6" fill="#000" text-anchor="start" textLength="48.0" lengthAdjust="spacingAndGlyphs">3 Oct 00:00</text>
<text x="1157.3" y="817.6" font-size="9.6" fill="#000" text-anchor="start" textLength="48.0" lengthAdjust="spacingAndGlyphs">3 Oct 16:00</text>
<text x="1221.3" y="817.6" font-size="9.6" fill="#000" text-anchor="start" textLength="48.0" lengthAdjust="spacingAndGlyphs">4 Oct 08:00</text>
</g>
<!-- toolbar -->
<defs>
<pattern id="chk" width="2" height="2" patternUnits="userSpaceOnUse"><rect width="2" height="2" fill="#fff"/><rect x="0" y="0" width="1" height="1" fill="#f0f0f0"/><rect x="1" y="1" width="1" height="1" fill="#f0f0f0"/></pattern>
<linearGradient id="gold" x1="0.2" y1="0" x2="0.6" y2="1"><stop offset="0" stop-color="#c48c14"/><stop offset="0.4" stop-color="#ffe85c"/><stop offset="0.75" stop-color="#f0c430"/><stop offset="1" stop-color="#c8941c"/></linearGradient>
<linearGradient id="srv" x1="0" y1="0" x2="1" y2="1"><stop offset="0" stop-color="#1f8fff"/><stop offset="1" stop-color="#22b0ff"/></linearGradient>
<linearGradient id="cloud" x1="0" y1="0" x2="0" y2="1"><stop offset="0" stop-color="#ffffff"/><stop offset="1" stop-color="#b8c6e0"/></linearGradient>
<radialGradient id="radar" cx="0.5" cy="0.5" r="0.5"><stop offset="0" stop-color="#ffffff"/><stop offset="0.6" stop-color="#e4efe6"/><stop offset="1" stop-color="#b4d6b6"/></radialGradient>
<linearGradient id="hat" x1="0" y1="0" x2="0" y2="1"><stop offset="0" stop-color="#84ccee"/><stop offset="1" stop-color="#3a90c8"/></linearGradient>
<radialGradient id="face" cx="0.45" cy="0.35" r="0.7"><stop offset="0" stop-color="#fffbd4"/><stop offset="0.5" stop-color="#ffe860"/><stop offset="1" stop-color="#eab400"/></radialGradient>
<linearGradient id="grn" x1="0" y1="0" x2="1" y2="0"><stop offset="0" stop-color="#00b000"/><stop offset="0.5" stop-color="#70f070"/><stop offset="1" stop-color="#00b000"/></linearGradient>
<radialGradient id="lens" cx="0.4" cy="0.35" r="0.7"><stop offset="0" stop-color="#f0fbff"/><stop offset="1" stop-color="#b4e0f4"/></radialGradient>
<linearGradient id="hdl" x1="0" y1="0" x2="1" y2="0"><stop offset="0" stop-color="#f0e060"/><stop offset="1" stop-color="#c09818"/></linearGradient>
<linearGradient id="blu" x1="0" y1="0" x2="1" y2="1"><stop offset="0" stop-color="#1c40b8"/><stop offset="1" stop-color="#3c78f0"/></linearGradient>
<linearGradient id="grn2" x1="0" y1="0" x2="1" y2="1"><stop offset="0" stop-color="#2c8c10"/><stop offset="1" stop-color="#48b020"/></linearGradient>
<radialGradient id="plus" cx="0.5" cy="0.5" r="0.6"><stop offset="0" stop-color="#90ff90"/><stop offset="1" stop-color="#10b010"/></radialGradient>
<linearGradient id="clk" x1="0" y1="0" x2="1" y2="1"><stop offset="0" stop-color="#3c9cf4"/><stop offset="1" stop-color="#0838a0"/></linearGradient>
<linearGradient id="wint" x1="0" y1="0" x2="0" y2="1"><stop offset="0" stop-color="#6ea6e8"/><stop offset="1" stop-color="#2c62c0"/></linearGradient>
<linearGradient id="redc" x1="0" y1="0" x2="0" y2="1"><stop offset="0" stop-color="#ea6640"/><stop offset="0.55" stop-color="#e03418"/><stop offset="1" stop-color="#d01c0c"/></linearGradient>
<linearGradient id="bub" x1="0" y1="0" x2="0" y2="1"><stop offset="0" stop-color="#fafafa"/><stop offset="1" stop-color="#d4d4e4"/></linearGradient>
</defs>
<g id="tb">
<g shape-rendering="crispEdges">
<rect x="0" y="0" width="1655" height="1" fill="#fff"/>
<rect x="0" y="1" width="1655" height="24" fill="#f0f0f0"/>
<rect x="0" y="25" width="1655" height="1" fill="#fafafa"/>
<rect x="0" y="26" width="1654" height="1" fill="#a0a0a0"/>
<rect x="1" y="27" width="1652" height="1" fill="#696969"/>
<!-- toolbar dividers -->
<g fill="#909090">
<rect x="204" y="1" width="1" height="25"/><rect x="572" y="1" width="1" height="25"/><rect x="878" y="1" width="1" height="25"/>
</g>
<g fill="#fff"><rect x="205" y="1" width="1" height="25"/><rect x="573" y="1" width="1" height="25"/><rect x="879" y="1" width="1" height="25"/></g>
<!-- inner separators -->
<g fill="#a0a0a0">
<rect x="299" y="3" width="1" height="21"/><rect x="389" y="3" width="1" height="21"/><rect x="451" y="3" width="1" height="21"/><rect x="639" y="3" width="1" height="21"/><rect x="1139" y="1" width="1" height="25"/>
</g>
<!-- grips -->
<g fill="#a8a8a8" id="grip">
<rect x="208" y="4" width="3" height="1"/><rect x="208" y="6" width="3" height="1"/><rect x="208" y="8" width="3" height="1"/><rect x="208" y="10" width="3" height="1"/><rect x="208" y="12" width="3" height="1"/><rect x="208" y="14" width="3" height="1"/><rect x="208" y="16" width="3" height="1"/><rect x="208" y="18" width="3" height="1"/><rect x="208" y="20" width="3" height="1"/><rect x="208" y="22" width="3" height="1"/><rect x="576" y="4" width="3" height="1"/><rect x="576" y="6" width="3" height="1"/><rect x="576" y="8" width="3" height="1"/><rect x="576" y="10" width="3" height="1"/><rect x="576" y="12" width="3" height="1"/><rect x="576" y="14" width="3" height="1"/><rect x="576" y="16" width="3" height="1"/><rect x="576" y="18" width="3" height="1"/><rect x="576" y="20" width="3" height="1"/><rect x="576" y="22" width="3" height="1"/><rect x="882" y="4" width="3" height="1"/><rect x="882" y="6" width="3" height="1"/><rect x="882" y="8" width="3" height="1"/><rect x="882" y="10" width="3" height="1"/><rect x="882" y="12" width="3" height="1"/><rect x="882" y="14" width="3" height="1"/><rect x="882" y="16" width="3" height="1"/><rect x="882" y="18" width="3" height="1"/><rect x="882" y="20" width="3" height="1"/><rect x="882" y="22" width="3" height="1"/>
</g>
<!-- pressed buttons -->
<rect x="242" y="2" width="25" height="22" fill="url(#chk)"/><rect x="242" y="2" width="25" height="1" fill="#a0a0a0"/><rect x="242" y="2" width="1" height="22" fill="#a0a0a0"/><rect x="243" y="23" width="24" height="1" fill="#fff"/><rect x="266" y="3" width="1" height="21" fill="#fff"/><rect x="394" y="2" width="25" height="22" fill="url(#chk)"/><rect x="394" y="2" width="25" height="1" fill="#a0a0a0"/><rect x="394" y="2" width="1" height="22" fill="#a0a0a0"/><rect x="395" y="23" width="24" height="1" fill="#fff"/><rect x="418" y="3" width="1" height="21" fill="#fff"/><rect x="422" y="2" width="25" height="22" fill="url(#chk)"/><rect x="422" y="2" width="25" height="1" fill="#a0a0a0"/><rect x="422" y="2" width="1" height="22" fill="#a0a0a0"/><rect x="423" y="23" width="24" height="1" fill="#fff"/><rect x="446" y="3" width="1" height="21" fill="#fff"/><rect x="582" y="2" width="25" height="22" fill="url(#chk)"/><rect x="582" y="2" width="25" height="1" fill="#a0a0a0"/><rect x="582" y="2" width="1" height="22" fill="#a0a0a0"/><rect x="583" y="23" width="24" height="1" fill="#fff"/><rect x="606" y="3" width="1" height="21" fill="#fff"/><rect x="1028" y="2" width="25" height="22" fill="url(#chk)"/><rect x="1028" y="2" width="25" height="1" fill="#a0a0a0"/><rect x="1028" y="2" width="1" height="22" fill="#a0a0a0"/><rect x="1029" y="23" width="24" height="1" fill="#fff"/><rect x="1052" y="3" width="1" height="21" fill="#fff"/>
</g>
<text x="-2.3" y="16.7" font-size="11.8" fill="#000" textLength="35.4" lengthAdjust="spacingAndGlyphs" style="font-family:'Liberation Sans','Noto Sans CJK SC',sans-serif">新订单</text>
<text x="149.3" y="16.7" font-size="11.8" fill="#000" textLength="47.2" lengthAdjust="spacingAndGlyphs" style="font-family:'Liberation Sans','Noto Sans CJK SC',sans-serif">自动交易</text>
<!-- 1 gold book -->
<path d="M45,15.4 L53,22.2 L61.2,14.4 L60.8,13 L53,19.6 L45.2,14 Z" fill="#9a640c"/>
<path d="M51.2,6.8 L60.8,13.8 L53,20.4 L45.1,14.8 C47,13.4 49.6,10.4 51.2,6.8 Z" fill="url(#gold)" stroke="#b07c14" stroke-width="0.6"/>
<path d="M51.2,7.4 C50,10.8 47.8,13.4 46,14.8" fill="none" stroke="#a87010" stroke-width="1"/>
<path d="M46.2,15.6 L53,20.9 L60,14.5" fill="none" stroke="#f4d870" stroke-width="0.5" opacity="0.9"/>
<!-- 2 server + cloud -->
<path d="M75.4,7.2 L78.6,6 L85.8,6 L85.8,16.5 L75.4,16.5 Z" fill="url(#srv)"/>
<path d="M75.4,7.2 L78.8,9 L78.8,16.5 L75.4,16.5 Z" fill="#0a78e8"/>
<rect x="79.4" y="9.2" width="5.8" height="6.8" fill="#eaf6ff"/>
<rect x="80.4" y="10.6" width="3.8" height="1" fill="#6ab8ff"/>
<path d="M75.8,21.4 a2.4,2.4 0 0 1 0.3,-4.8 a1.8,1.8 0 0 1 2.3,-0.6 a3,2.6 0 0 1 5.6,0.4 a2.2,2.2 0 0 1 2.6,1 a2.2,2.2 0 0 1 -0.2,4 z" fill="url(#cloud)" stroke="#4c6cac" stroke-width="0.9"/>
<!-- 3 radar -->
<circle cx="108.9" cy="13.6" r="7.7" fill="url(#radar)"/>
<path d="M108.9,13.6 L108.9,21.3 A7.7,7.7 0 0 0 116.3,11.4 Z" fill="#6cbc6c" opacity="0.22"/>
<g fill="none" stroke="#3a64d4" stroke-width="0.8">
<path d="M108.9,21 A7.4,7.4 0 1 1 115.9,11.2" opacity="0.95"/>
<path d="M108.9,18.7 A5.1,5.1 0 1 1 113.8,12" opacity="0.85"/>
<path d="M108.9,16.5 A2.9,2.9 0 1 1 111.7,12.8" opacity="0.8"/>
</g>
<g fill="none" stroke="#5aa85a" stroke-width="0.9" opacity="0.8">
<path d="M115.9,11.2 A7.4,7.4 0 0 1 109.6,21"/>
<path d="M113.8,12 A5.1,5.1 0 0 1 109.6,18.6"/>
</g>
<circle cx="108.8" cy="13.4" r="1.9" fill="#2458d0"/>
<line x1="109.2" y1="13.8" x2="109.3" y2="21.6" stroke="#18a018" stroke-width="1.4"/>
<!-- 4 expert hat -->
<path d="M128.4,12.2 L143.4,12.2 L143.4,14.5 L136.6,21.8 L134.6,21.8 L128.4,15 Z" fill="url(#face)" stroke="#d8a000" stroke-width="0.5"/>
<path d="M128.2,9.6 C129.5,12.6 133,13 136,13 C139,13 142.5,12.6 143.8,9.6 C143,8.4 141.5,9.4 140,9.8 L132,9.8 C130.5,9.4 129,8.4 128.2,9.6 Z" fill="url(#hat)" stroke="#2a78b4" stroke-width="0.5"/>
<ellipse cx="136" cy="8.7" rx="4.2" ry="2.9" fill="url(#hat)"/>
<ellipse cx="135.2" cy="7.8" rx="2.2" ry="1.2" fill="#a8dcf8" opacity="0.7"/>
<circle cx="140.3" cy="17.6" r="3.9" fill="#dc2010" stroke="#b41408" stroke-width="0.6"/>
<circle cx="140.3" cy="17.6" r="3.2" fill="none" stroke="#f05038" stroke-width="0.5"/>
<rect x="138.8" y="16.1" width="3" height="3" fill="#fff"/>
<!-- chart type icons: axes -->
<g id="axes" fill="none" stroke="#505050" stroke-width="1.1">
<path d="M222.5,22 V8.6 M219.8,19.5 H233.6"/>
<path d="M250.4,22 V8.6 M247.8,19.5 H261.6"/>
<path d="M278.5,22 V8.6 M275.9,19.5 H289.6"/>
<path d="M402.5,22 V8.6 M399.9,19.5 H413.6"/>
<path d="M430.5,22 V8.6 M427.9,19.5 H441.6"/>
</g>
<g fill="#505050">
<path d="M222.5,7.8 l-1.9,2.5 h3.8z M234.4,19.5 l-2.5,-1.9 v3.8z"/>
<path d="M250.4,7.8 l-1.9,2.5 h3.8z M262.4,19.5 l-2.5,-1.9 v3.8z"/>
<path d="M278.5,7.8 l-1.9,2.5 h3.8z M290.4,19.5 l-2.5,-1.9 v3.8z"/>
<path d="M402.5,7.8 l-1.9,2.5 h3.8z M414.4,19.5 l-2.5,-1.9 v3.8z"/>
<path d="M430.5,7.8 l-1.9,2.5 h3.8z M442.4,19.5 l-2.5,-1.9 v3.8z"/>
</g>
<!-- bar -->
<path d="M228.7,9.2 V17.9 M228.7,10.4 H231 M226.1,16.7 H228.7" fill="none" stroke="#008000" stroke-width="1.2"/>
<!-- candle -->
<line x1="256.5" y1="6.1" x2="256.5" y2="17.9" stroke="#009000" stroke-width="1.3"/>
<rect x="254.3" y="8.6" width="4.4" height="7" fill="url(#grn)" stroke="#009800" stroke-width="0.8"/>
<!-- line -->
<path d="M277.1,16.8 C279.5,15.5 281,11.2 283.2,11.2 C285,11.2 286.5,14.2 288.8,15.1" fill="none" stroke="#2a8c2a" stroke-width="1.1"/>
<!-- zoom in -->
<line x1="318" y1="16" x2="322.6" y2="20.4" stroke="#a07c18" stroke-width="3.6" stroke-linecap="butt"/>
<line x1="318" y1="16" x2="322.6" y2="20.4" stroke="#ecd440" stroke-width="2.2" stroke-linecap="butt"/>
<circle cx="314" cy="11.9" r="5.4" fill="url(#lens)" stroke="#3878c8" stroke-width="1.2"/>
<path d="M310.6,11.9 H317.4 M314,8.5 V15.3" stroke="#3a86b6" stroke-width="1.9" fill="none"/>
<!-- zoom out -->
<line x1="346" y1="16" x2="350.8" y2="20.4" stroke="#a07c18" stroke-width="3.6" stroke-linecap="butt"/>
<line x1="346" y1="16" x2="350.8" y2="20.4" stroke="#ecd440" stroke-width="2.2" stroke-linecap="butt"/>
<circle cx="342" cy="11.9" r="5.4" fill="url(#lens)" stroke="#3878c8" stroke-width="1.2"/>
<path d="M338.6,11.9 H345.4" stroke="#3a86b6" stroke-width="1.9" fill="none"/>
<!-- tile -->
<rect x="364.1" y="6" width="7.9" height="8" fill="url(#grn2)"/><rect x="372" y="6" width="7.9" height="8" fill="url(#blu)"/>
<rect x="364.1" y="14" width="7.9" height="8" fill="url(#blu)"/><rect x="372" y="14" width="7.9" height="8" fill="url(#grn2)"/>
<g fill="#fff">
<path d="M365.4,9.2 h5.6 v3.6 h-1 v-1.2 h-3.6 v1.2 h-1z M373.4,9.2 h5.6 v3.6 h-1 v-1.2 h-3.6 v1.2 h-1z M365.4,17.2 h5.6 v3.6 h-1 v-1.2 h-3.6 v1.2 h-1z M373.4,17.2 h5.6 v3.6 h-1 v-1.2 h-3.6 v1.2 h-1z"/>
<rect x="365.2" y="7" width="0.9" height="0.9" opacity="0.8"/><rect x="373.2" y="7" width="0.9" height="0.9" opacity="0.8"/><rect x="365.2" y="15" width="0.9" height="0.9" opacity="0.8"/><rect x="373.2" y="15" width="0.9" height="0.9" opacity="0.8"/>
</g>
<g opacity="0.6"><rect x="366.6" y="10.2" width="3.2" height="0.7" fill="#9c6"/><rect x="374.6" y="10.2" width="3.2" height="0.7" fill="#69f"/><rect x="366.6" y="18.2" width="3.2" height="0.7" fill="#69f"/><rect x="374.6" y="18.2" width="3.2" height="0.7" fill="#9c6"/></g>
<!-- shift play -->
<polygon points="407.3,10.1 407.3,17 411,13.5" fill="#5cd05c" stroke="#109410" stroke-width="0.9"/>
<!-- shift end -->
<line x1="436.4" y1="8.2" x2="436.4" y2="17.9" stroke="#1a72b4" stroke-width="1.3"/>
<path d="M441.9,13.5 H438.5" stroke="#e04c10" stroke-width="1.1" fill="none"/>
<polygon points="437.2,13.5 439.9,11.3 439.3,13.5 439.9,15.7" fill="#e04c10"/>
<!-- doc plus -->
<path d="M462,6.6 h7.6 l3,3 v9.6 h-10.6z" fill="#fbfbfb" stroke="#8c8c8c" stroke-width="0.8"/>
<path d="M469.6,6.6 v3 h3" fill="#e4e4e4" stroke="#8c8c8c" stroke-width="0.7"/>
<path d="M465.6,10.2 c-1.4,0 -1.4,0.6 -1.4,2 v3.6 c0,1.2 0.2,1.6 1.2,1.6 M464.2,13.5 h1.6" fill="none" stroke="#5a4a30" stroke-width="0.7"/>
<path d="M469.6,12.7 h3.4 v3.5 h3.5 v3.4 h-3.5 v3.5 h-3.4 v-3.5 h-3.5 v-3.4 h3.5z" fill="url(#plus)" stroke="#10a010" stroke-width="0.8"/>
<!-- dropdown arrows -->
<g fill="#000">
<polygon points="482.8,12.9 488.3,12.9 485.55,15.9"/>
<polygon points="521.7,12.9 527.2,12.9 524.45,15.9"/>
<polygon points="560.7,12.9 566.2,12.9 563.45,15.9"/>
<polygon points="866.8,12.9 872.3,12.9 869.55,15.9"/>
</g>
<!-- clock -->
<circle cx="507" cy="13.9" r="7.8" fill="url(#clk)"/>
<circle cx="506.9" cy="13.8" r="5.1" fill="#fcfcfc"/>
<circle cx="506.9" cy="13.8" r="5.1" fill="none" stroke="#9cc4f0" stroke-width="0.6"/>
<path d="M506.6,10.6 V14 H509.6" fill="none" stroke="#303030" stroke-width="1.1"/>
<g fill="#888"><circle cx="507" cy="9.6" r="0.4"/><circle cx="511.3" cy="13.9" r="0.4"/><circle cx="502.7" cy="13.9" r="0.4"/><circle cx="504" cy="17" r="0.4"/><circle cx="510" cy="17" r="0.4"/></g>
<rect x="505.8" y="16.3" width="2.4" height="0.8" fill="#9cc8ff"/>
<!-- indicators window -->
<rect x="538.4" y="7.2" width="15.4" height="13.2" fill="#fff" stroke="#3a70c4" stroke-width="0.9"/>
<rect x="538.4" y="7.2" width="15.4" height="2.2" fill="url(#wint)"/>
<rect x="539.6" y="8" width="5" height="0.7" fill="#d8e8ff" opacity="0.8"/>
<rect x="538.4" y="14.7" width="15.4" height="0.9" fill="#5a8cd8"/>
<path d="M540.2,13.3 h1.8 l1.8,-1.5 h1.6 l1.2,0.8 h1.8 l1.6,-1.1 h1.6" fill="none" stroke="#a4220e" stroke-width="1.1"/>
<path d="M540.8,18.6 h1.6 l1.6,-1 l1.4,1 h1.2 l2,-2.1 h1 l1.9,2.2" fill="none" stroke="#129a24" stroke-width="1.1"/>
<!-- cursor -->
<polygon points="589.9,6.5 589.9,18.3 592.8,15.5 595.2,21 597,20.2 594.6,14.8 598.2,14.8" fill="#505050"/>
<!-- crosshair -->
<path d="M615,14.5 H621.7 M623.3,14.5 H630 M622.5,6.9 V13.7 M622.5,15.3 V22" stroke="#505050" stroke-width="1.2" fill="none"/>
<rect x="622.2" y="14.2" width="0.6" height="0.6" fill="#808080"/>
<!-- vline, hline, trend -->
<path d="M656.4,7.9 V21 M678.8,14.5 H691" stroke="#505050" stroke-width="1.25" fill="none"/><path d="M706.8,21 L719,8.8" stroke="#505050" stroke-width="1" fill="none"/>
<!-- channel -->
<g stroke="#505050" fill="none">
<path d="M733,15.4 L743.2,8 M733.6,20.4 L747.4,12.4" stroke-width="1"/>
<path d="M736.2,20.2 L737,8.8 M739.8,19 L740.6,7.6 M743.6,16.4 L744.4,6" stroke-width="0.9"/>
<path d="M735.4,13.4 l2.6,1 M739,10.8 l2.6,1 M742.8,8.6 l2.6,1 M735.6,18.4 l2.2,0.8 M739.2,15.9 l2.2,0.8" stroke-width="0.7"/>
</g>
<path d="M744.3,18.2 h3.7 v1 h-2.5 v0.8 h2.2 v1 h-2.2 v0.8 h2.6 v1 h-3.8z" fill="#404040"/>
<!-- fibo -->
<g fill="#585858" shape-rendering="crispEdges"><rect x="762" y="7" width="1" height="1"/><rect x="764" y="7" width="1" height="1"/><rect x="766" y="7" width="1" height="1"/><rect x="768" y="7" width="1" height="1"/><rect x="770" y="7" width="1" height="1"/><rect x="772" y="7" width="1" height="1"/><rect x="774" y="7" width="1" height="1"/><rect x="762" y="10" width="1" height="1"/><rect x="764" y="10" width="1" height="1"/><rect x="766" y="10" width="1" height="1"/><rect x="768" y="10" width="1" height="1"/><rect x="770" y="10" width="1" height="1"/><rect x="772" y="10" width="1" height="1"/><rect x="774" y="10" width="1" height="1"/><rect x="762" y="14" width="1" height="1"/><rect x="764" y="14" width="1" height="1"/><rect x="766" y="14" width="1" height="1"/><rect x="768" y="14" width="1" height="1"/><rect x="770" y="14" width="1" height="1"/><rect x="772" y="14" width="1" height="1"/><rect x="774" y="14" width="1" height="1"/><rect x="762" y="18" width="1" height="1"/><rect x="764" y="18" width="1" height="1"/><rect x="766" y="18" width="1" height="1"/><rect x="768" y="18" width="1" height="1"/><rect x="770" y="18" width="1" height="1"/></g>
<path d="M771.8,18.2 h3.9 v1 h-2.7 v0.9 h2.3 v1 h-2.3 v1.6 h-1.2z" fill="#404040"/>
<!-- A -->
<path d="M793,18.9 L796,10 H797.4 L800.4,18.9 H798.9 L798.1,16.4 H795.2 L794.4,18.9 Z M795.6,15.2 H797.7 L796.7,11.8 Z" fill="#505050"/>
<!-- T label -->
<g fill="#585858" shape-rendering="crispEdges"><rect x="820" y="8" width="1" height="1"/><rect x="822" y="8" width="1" height="1"/><rect x="824" y="8" width="1" height="1"/><rect x="826" y="8" width="1" height="1"/><rect x="828" y="8" width="1" height="1"/><rect x="830" y="8" width="1" height="1"/><rect x="830" y="10" width="1" height="1"/><rect x="830" y="12" width="1" height="1"/><rect x="830" y="14" width="1" height="1"/><rect x="830" y="16" width="1" height="1"/><rect x="830" y="18" width="1" height="1"/><rect x="819" y="20" width="1" height="1"/><rect x="821" y="20" width="1" height="1"/><rect x="823" y="20" width="1" height="1"/><rect x="825" y="20" width="1" height="1"/><rect x="827" y="20" width="1" height="1"/><rect x="829" y="20" width="1" height="1"/><rect x="819" y="10" width="1" height="1"/><rect x="819" y="12" width="1" height="1"/><rect x="819" y="14" width="1" height="1"/><rect x="819" y="16" width="1" height="1"/><rect x="819" y="18" width="1" height="1"/><rect x="818" y="7" width="2" height="1"/></g>
<path d="M821,11.3 H829.1 V12.6 H825.8 V18.9 H824.3 V12.6 H821 Z" fill="#505050"/>
<!-- arrows -->
<polygon points="849.6,7.7 853.6,11.5 849.6,12.7 845.6,11.5" fill="#505050"/>
<polygon points="856.4,21.2 852.6,17.3 856.4,16 860.2,17.3" fill="#505050"/>
<path d="M848.2,15.4 L850.6,17.6 L854.8,12.4" fill="none" stroke="#505050" stroke-width="1.2"/>
<!-- search -->
<line x1="1606" y1="15" x2="1602" y2="18.8" stroke="#1c54cc" stroke-width="2.6" stroke-linecap="round"/>
<circle cx="1609.4" cy="11.6" r="4" fill="#f6f6ff" stroke="#2458d0" stroke-width="1.1"/>
<!-- chat bubble -->
<ellipse cx="1631.5" cy="22.3" rx="5.5" ry="0.8" fill="#c8c8c8" opacity="0.6"/>
<path d="M1631.4,11.6 a5.2,4.8 0 0 1 0,9.6 c-0.6,0 -1.2,-0.1 -1.7,-0.2 l-0.3,1.6 l-0.9,-2.1 a5.2,4.8 0 0 1 2.9,-8.9z" fill="url(#bub)" stroke="#a4a4a4" stroke-width="0.8"/>
<circle cx="1640.5" cy="11.6" r="8.25" fill="url(#redc)"/>
<path d="M1637.3,8.9 L1640.3,6.9 H1640.8 V15.1 H1642 V16.1 H1637.1 V15.1 H1638.9 V9.2 L1637.5,10 Z" fill="#fff"/>
<g fill="#404040" font-size="9.8"><text x="893.8" y="17.9" textLength="12.2" lengthAdjust="spacingAndGlyphs">M1</text><text x="921.9" y="17.9" textLength="12.3" lengthAdjust="spacingAndGlyphs">M5</text><text x="947.7" y="17.9" textLength="17.1" lengthAdjust="spacingAndGlyphs">M15</text><text x="975.2" y="17.9" textLength="18" lengthAdjust="spacingAndGlyphs">M30</text><text x="1006.3" y="17.9" textLength="12.1" lengthAdjust="spacingAndGlyphs">H1</text><text x="1033.6" y="17.9" textLength="12.7" lengthAdjust="spacingAndGlyphs">H4</text><text x="1062.5" y="17.9" textLength="11.7" lengthAdjust="spacingAndGlyphs">D1</text><text x="1090" y="17.9" textLength="14" lengthAdjust="spacingAndGlyphs">W1</text><text x="1116.7" y="17.9" textLength="14.6" lengthAdjust="spacingAndGlyphs">MN</text></g>
</g>

</svg>
</body></html>
